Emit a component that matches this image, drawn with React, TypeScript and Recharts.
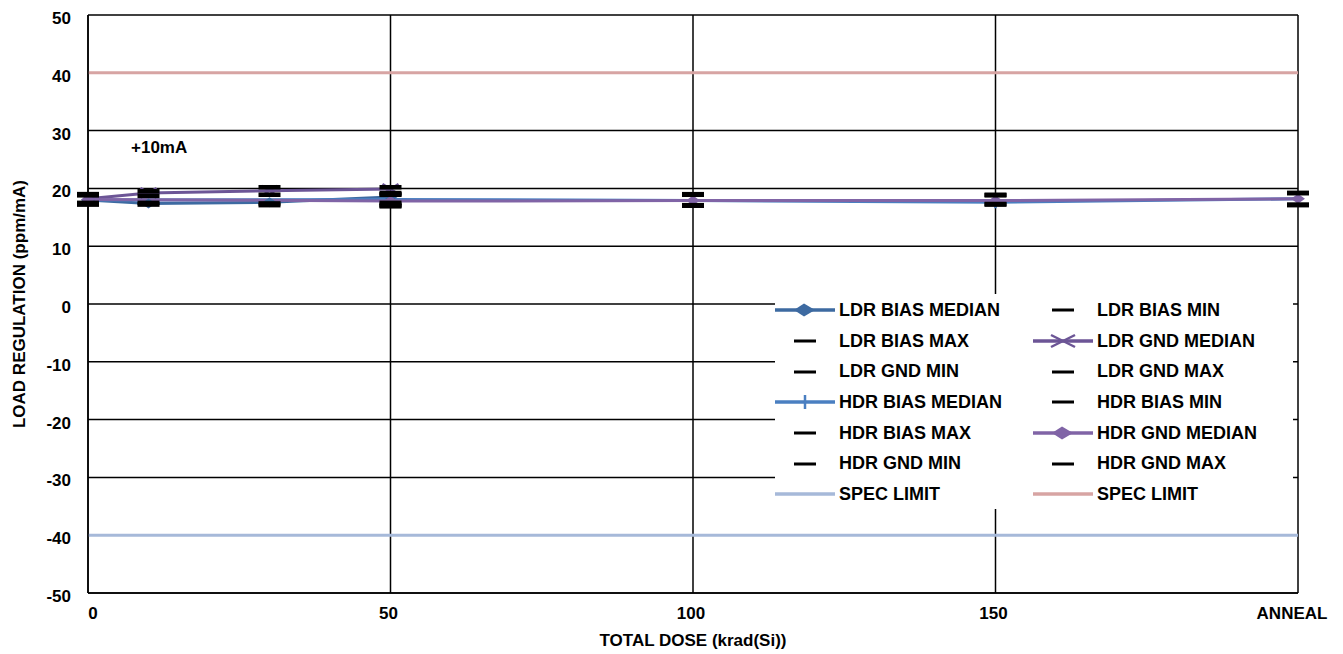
import React from 'react';
import { ComposedChart, Line, XAxis, YAxis, CartesianGrid } from 'recharts';

// total dose points (krad(Si)); 200 is the anneal step
const doses = [0, 10, 30, 50, 100, 150, 200];
const xTicks = [0, 50, 100, 150, 200];
const yTicks = [-50, -40, -30, -20, -10, 0, 10, 20, 30, 40, 50];

type V = number | null;

const ldrBiasMedian: V[] = [18.0, 17.4, 17.6, 18.5, null, null, null];
const ldrBiasMin: V[] = [17.3, 17.2, 17.1, 17.5, null, null, null];
const ldrBiasMax: V[] = [18.8, 18.7, 18.9, 19.2, null, null, null];
const ldrGndMedian: V[] = [18.2, 19.2, 19.6, 19.9, null, null, null];
const ldrGndMin: V[] = [17.5, 17.5, 17.4, 17.0, null, null, null];
const ldrGndMax: V[] = [19.0, 19.5, 20.2, 20.2, null, null, null];
const hdrBiasMedian: V[] = [18.0, null, null, 18.1, 17.9, 17.6, 18.2];
const hdrBiasMin: V[] = [17.2, null, null, 16.9, 17.1, 17.2, 17.2];
const hdrBiasMax: V[] = [18.9, null, null, 18.9, 18.9, 18.8, 19.2];
const hdrGndMedian: V[] = [18.1, null, null, 17.8, 17.9, 17.9, 18.2];
const hdrGndMin: V[] = [17.4, null, null, 17.2, 17.0, 17.3, 17.1];
const hdrGndMax: V[] = [19.0, null, null, 19.0, 19.0, 18.9, 19.2];
const specLow: V[] = [-40, -40, -40, -40, -40, -40, -40];
const specHigh: V[] = [40, 40, 40, 40, 40, 40, 40];

const data = doses.map((d, i) => ({
  dose: d,
  ldrBiasMedian: ldrBiasMedian[i],
  ldrBiasMin: ldrBiasMin[i],
  ldrBiasMax: ldrBiasMax[i],
  ldrGndMedian: ldrGndMedian[i],
  ldrGndMin: ldrGndMin[i],
  ldrGndMax: ldrGndMax[i],
  hdrBiasMedian: hdrBiasMedian[i],
  hdrBiasMin: hdrBiasMin[i],
  hdrBiasMax: hdrBiasMax[i],
  hdrGndMedian: hdrGndMedian[i],
  hdrGndMin: hdrGndMin[i],
  hdrGndMax: hdrGndMax[i],
  specLow: specLow[i],
  specHigh: specHigh[i],
}));

const C = {
  ldrBias: '#3d6aa1',
  ldrGnd: '#6c5596',
  hdrBias: '#4a7fc1',
  hdrGnd: '#8064a6',
  specLow: '#a6b9d9',
  specHigh: '#d7a4a3',
};

const FONT = '"Liberation Sans", Arial, sans-serif';

const ok = (p: any) => p && p.value != null && p.cx != null && p.cy != null;

const Diamond = (color: string) => (p: any) => {
  if (!ok(p)) return <g key={p.key} />;
  const { cx, cy } = p;
  return <polygon key={p.key} points={`${cx - 7},${cy} ${cx},${cy - 5} ${cx + 7},${cy} ${cx},${cy + 5}`} fill={color} />;
};

const Cross = (color: string) => (p: any) => {
  if (!ok(p)) return <g key={p.key} />;
  const { cx, cy } = p;
  return (
    <g key={p.key} stroke={color} strokeWidth={2.5}>
      <line x1={cx - 8} y1={cy - 5} x2={cx + 8} y2={cy + 5} />
      <line x1={cx - 8} y1={cy + 5} x2={cx + 8} y2={cy - 5} />
    </g>
  );
};

const Plus = (color: string) => (p: any) => {
  if (!ok(p)) return <g key={p.key} />;
  const { cx, cy } = p;
  return <line key={p.key} x1={cx} y1={cy - 6} x2={cx} y2={cy + 6} stroke={color} strokeWidth={2.5} />;
};

const Dash = (p: any) => {
  if (!ok(p)) return <g key={p.key} />;
  const { cx, cy } = p;
  return <rect key={p.key} x={cx - 11} y={cy - 2.25} width={22} height={4.5} fill="#000" />;
};

const XTick = (p: any) => {
  const { x, y, payload } = p;
  const label = payload.value === 200 ? 'ANNEAL' : String(payload.value);
  const dx = payload.value === 0 ? 5 : payload.value === 200 ? -6 : -2;
  return (
    <text x={x + dx} y={y} dy="0.71em" textAnchor="middle" fontFamily={FONT} fontWeight="bold" fontSize={17} fill="#000">
      {label}
    </text>
  );
};

const YTick = (p: any) => {
  const { x, y, payload } = p;
  return (
    <text x={x} y={y + 3} dy="0.355em" textAnchor="end" fontFamily={FONT} fontWeight="bold" fontSize={17} fill="#000">
      {payload.value}
    </text>
  );
};

const legendItems: [string, string, string][] = [
  ['LDR BIAS MEDIAN', 'diamond', C.ldrBias],
  ['LDR BIAS MIN', 'dash', '#000'],
  ['LDR BIAS MAX', 'dash', '#000'],
  ['LDR GND MEDIAN', 'cross', C.ldrGnd],
  ['LDR GND MIN', 'dash', '#000'],
  ['LDR GND MAX', 'dash', '#000'],
  ['HDR BIAS MEDIAN', 'plus', C.hdrBias],
  ['HDR BIAS MIN', 'dash', '#000'],
  ['HDR BIAS MAX', 'dash', '#000'],
  ['HDR GND MEDIAN', 'diamond', C.hdrGnd],
  ['HDR GND MIN', 'dash', '#000'],
  ['HDR GND MAX', 'dash', '#000'],
  ['SPEC LIMIT', 'line', C.specLow],
  ['SPEC LIMIT', 'line', C.specHigh],
];

function LegendIcon({ kind, color }: { kind: string; color: string }) {
  return (
    <svg width={60} height={16} style={{ display: 'block' }}>
      {kind === 'dash' ? (
        <rect x={19} y={6.5} width={22} height={3} fill="#000" />
      ) : (
        <line x1={0} y1={8} x2={60} y2={8} stroke={color} strokeWidth={3.5} />
      )}
      {kind === 'diamond' && <polygon points="19,8 29,1.5 40,8 29,14.5" fill={color} />}
      {kind === 'cross' && (
        <g stroke={color} strokeWidth={2.5}>
          <line x1={18} y1={2} x2={42} y2={14} />
          <line x1={18} y1={14} x2={42} y2={2} />
        </g>
      )}
      {kind === 'plus' && <line x1={30} y1={1} x2={30} y2={15} stroke={color} strokeWidth={2.5} />}
    </svg>
  );
}

export default function App() {
  return (
    <div style={{ position: 'relative', width: 1343, height: 654, background: '#fff', fontFamily: FONT }}>
      <style>{`body{margin:0}`}</style>
      <ComposedChart width={1343} height={654} data={data} margin={{ top: 15, right: 45, bottom: 31, left: 30 }}>
        <CartesianGrid stroke="#000" strokeWidth={1.5} horizontalValues={yTicks} verticalValues={xTicks} />
        <XAxis
          dataKey="dose"
          type="number"
          domain={[0, 200]}
          ticks={xTicks}
          tick={<XTick />}
          tickLine={false}
          tickSize={0}
          tickMargin={14}
          height={30}
          axisLine={{ stroke: '#000', strokeWidth: 1.5 }}
        />
        <YAxis
          type="number"
          domain={[-50, 50]}
          ticks={yTicks}
          width={58}
          tickLine={false}
          tickSize={0}
          tickMargin={17}
          axisLine={{ stroke: '#000', strokeWidth: 1.5 }}
          tick={<YTick />}
        />
        <Line dataKey="specLow" stroke={C.specLow} strokeWidth={3} dot={false} isAnimationActive={false} />
        <Line dataKey="specHigh" stroke={C.specHigh} strokeWidth={3} dot={false} isAnimationActive={false} />
        <Line dataKey="ldrBiasMedian" stroke={C.ldrBias} strokeWidth={3} dot={Diamond(C.ldrBias)} isAnimationActive={false} />
        <Line dataKey="hdrBiasMedian" stroke={C.hdrBias} strokeWidth={3} connectNulls dot={Plus(C.hdrBias)} isAnimationActive={false} />
        <Line dataKey="ldrGndMedian" stroke={C.ldrGnd} strokeWidth={3} dot={Cross(C.ldrGnd)} isAnimationActive={false} />
        <Line dataKey="hdrGndMedian" stroke={C.hdrGnd} strokeWidth={3} connectNulls dot={Diamond(C.hdrGnd)} isAnimationActive={false} />
        {['ldrBiasMin', 'ldrBiasMax', 'ldrGndMin', 'ldrGndMax', 'hdrBiasMin', 'hdrBiasMax', 'hdrGndMin', 'hdrGndMax'].map((k) => (
          <Line key={k} dataKey={k} stroke="none" strokeWidth={0} dot={Dash} isAnimationActive={false} />
        ))}
      </ComposedChart>

      <div style={{ position: 'absolute', left: 131, top: 138, fontSize: 17, fontWeight: 'bold', lineHeight: '20px' }}>+10mA</div>

      <div
        style={{
          position: 'absolute',
          left: 20,
          top: 304,
          transform: 'translate(-50%, -50%) rotate(-90deg)',
          whiteSpace: 'nowrap',
          fontSize: 17,
          fontWeight: 'bold',
        }}
      >
        LOAD REGULATION (ppm/mA)
      </div>
      <div
        style={{
          position: 'absolute',
          left: 693,
          top: 641,
          transform: 'translate(-50%, -50%)',
          whiteSpace: 'nowrap',
          fontSize: 17,
          fontWeight: 'bold',
        }}
      >
        TOTAL DOSE (krad(Si))
      </div>

      <div
        style={{
          position: 'absolute',
          left: 775,
          top: 294,
          width: 518,
          height: 214,
          background: '#fff',
          display: 'grid',
          gridTemplateColumns: '258px 260px',
          gridAutoRows: '30.7px',
          paddingTop: 1,
        }}
      >
        {legendItems.map(([label, kind, color], i) => (
          <div key={i} style={{ display: 'flex', alignItems: 'center' }}>
            <LegendIcon kind={kind} color={color} />
            <span style={{ marginLeft: 4, fontSize: 18, fontWeight: 'bold', whiteSpace: 'nowrap' }}>{label}</span>
          </div>
        ))}
      </div>
    </div>
  );
}
